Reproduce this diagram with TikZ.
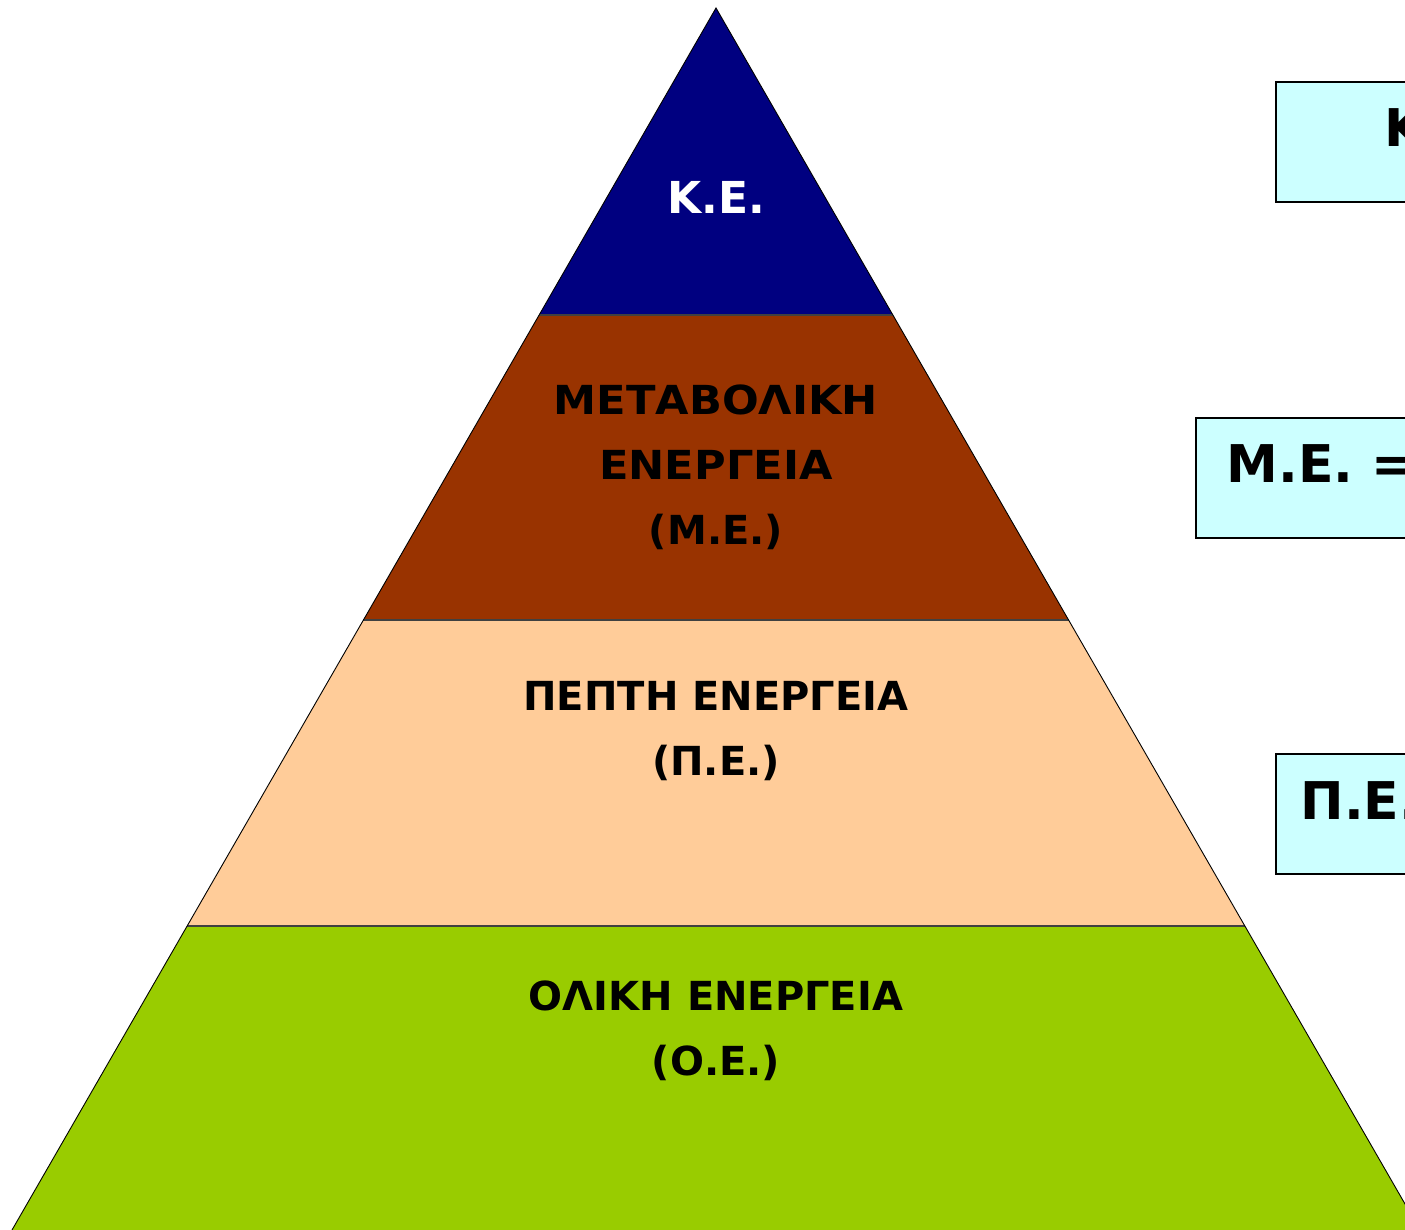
\documentclass[tikz,border=0pt]{standalone}
\usepackage{fontspec}
\setmainfont{DejaVu Sans}
\usetikzlibrary{calc}
\definecolor{navyband}{HTML}{000080}
\definecolor{brownband}{HTML}{993300}
\definecolor{peachband}{HTML}{FFCC99}
\definecolor{greenband}{HTML}{99CC00}
\definecolor{boxfill}{HTML}{CCFFFF}
\tikzset{
  bandtext/.style={align=center, font=\bfseries\fontsize{40}{65}\selectfont, text=black},
  eqbox/.style={draw=black, line width=1.6pt, fill=boxfill},
  eqtext/.style={anchor=west, font=\bfseries\fontsize{52}{60}\selectfont, text=black},
  separator/.style={draw=black!75, line width=1.1pt},
}
\begin{document}
\begin{tikzpicture}[x=1pt,y=-1pt]
\useasboundingbox (0,0) rectangle (1405,1230);
\clip (0,0) rectangle (1405,1230);
% pyramid corners
\coordinate (apex) at (716,8);
\coordinate (bl) at (12,1230);
\coordinate (br) at (1420,1230);
% points on the sides where the bands meet
\coordinate (l1) at ($(apex)!0.2512!(bl)$);
\coordinate (r1) at ($(apex)!0.2512!(br)$);
\coordinate (l2) at ($(apex)!0.5008!(bl)$);
\coordinate (r2) at ($(apex)!0.5008!(br)$);
\coordinate (l3) at ($(apex)!0.7512!(bl)$);
\coordinate (r3) at ($(apex)!0.7512!(br)$);
% bands
\fill[navyband] (apex) -- (r1) -- (l1) -- cycle;
\fill[brownband] (l1) -- (r1) -- (r2) -- (l2) -- cycle;
\fill[peachband] (l2) -- (r2) -- (r3) -- (l3) -- cycle;
\fill[greenband] (l3) -- (r3) -- (br) -- (bl) -- cycle;
% separators and outline
\draw[separator] (l1) -- (r1);
\draw[separator] (l2) -- (r2);
\draw[separator] (l3) -- (r3);
\draw[black, line width=0.9pt] (bl) -- (apex) -- (br);
% band labels
\node[font=\bfseries\fontsize{44}{50}\selectfont, text=white] (ke) at (716,197) {Κ.Ε.};
\node[bandtext] (me) at (716,467) {\scalebox{1.08}[1]{ΜΕΤΑΒΟΛΙΚΗ}\\\scalebox{1.08}[1]{ΕΝΕΡΓΕΙΑ}\\(Μ.Ε.)};
\node[bandtext] (pe) at (716,731) {ΠΕΠΤΗ ΕΝΕΡΓΕΙΑ\\(Π.Ε.)};
\node[bandtext] (oe) at (716,1031) {ΟΛΙΚΗ ΕΝΕΡΓΕΙΑ\\(Ο.Ε.)};
% definition boxes on the right
\draw[eqbox] (1276,82) rectangle (1500,202);
\draw[eqbox] (1196,418) rectangle (1500,538);
\draw[eqbox] (1276,754) rectangle (1500,874);
\node[eqtext] (keq) at (1381,128) {Κ.Ε.};
\node[eqtext] (meq) at (1223,464) {Μ.Ε. =};
\node[eqtext] (peq) at (1297,801) {Π.Ε.};
\end{tikzpicture}
\end{document}
